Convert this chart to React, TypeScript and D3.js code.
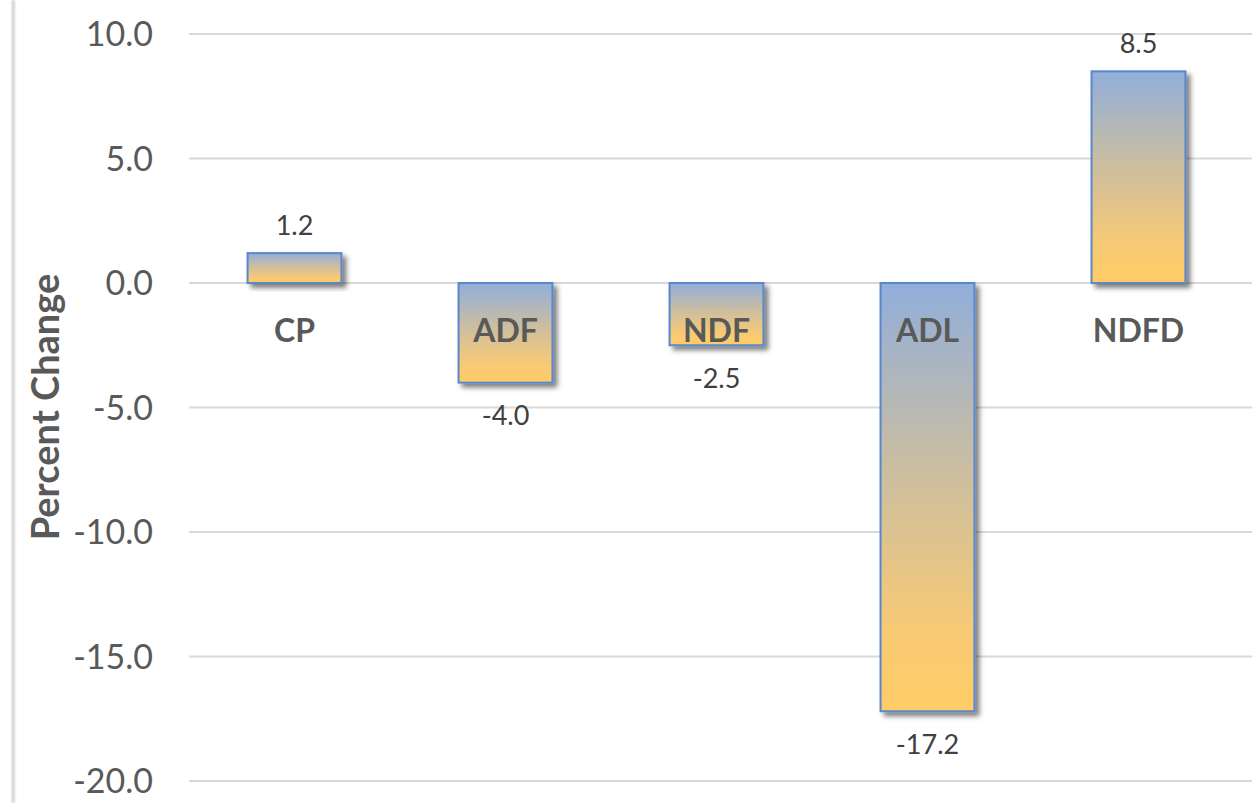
import React from "react";
import * as d3 from "d3";

const categories = ["CP", "ADF", "NDF", "ADL", "NDFD"];
const values = [1.2, -4.0, -2.5, -17.2, 8.5];
const yTicks = [10, 5, 0, -5, -10, -15, -20];
const yTitle = "Percent Change";

const W = 1260;
const H = 803;
const FONT = "Lato, 'Open Sans', sans-serif";
const fmt = (v: number) => d3.format(".1f")(v).replace("\u2212", "-");

export default function App() {
  const x = d3.scaleBand<string>().domain(categories).range([189, 1244]).paddingInner(0.555).paddingOuter(0.2775);
  const y = d3.scaleLinear().domain([-20, 10]).range([781, 34]);
  const y0 = y(0);

  return (
    <svg width={W} height={H} style={{ position: "absolute", left: 0, top: 0, background: "#fff" }} fontFamily={FONT}>
      <defs>
        <linearGradient id="barGrad" x1="0" y1="0" x2="0" y2="1">
          <stop offset="0" stopColor="#91AEDA" />
          <stop offset="0.45" stopColor="#CDBE9F" />
          <stop offset="0.82" stopColor="#F8CA74" />
          <stop offset="1" stopColor="#FFCC66" />
        </linearGradient>
        <filter id="shadow" x="-20%" y="-20%" width="150%" height="150%">
          <feDropShadow dx="4" dy="4" stdDeviation="2.5" floodColor="#000" floodOpacity="0.5" />
        </filter>
        <filter id="edge" x="-200%" y="0" width="500%" height="100%">
          <feGaussianBlur stdDeviation="1.2" />
        </filter>
      </defs>
      <rect x={12} y={0} width={2.5} height={H} fill="#c8c8c8" filter="url(#edge)" />
      {yTicks.map((t) => (
        <g key={t}>
          <line x1={189} x2={1252} y1={y(t)} y2={y(t)} stroke="#d9d9d9" strokeWidth={2} />
          <text x={153} y={y(t)} dy="0.36em" textAnchor="end" fontSize={34} fill="#595959">
            {fmt(t)}
          </text>
        </g>
      ))}
      {categories.map((c, i) => {
        const v = values[i];
        const bx = x(c)!;
        const bw = x.bandwidth();
        const top = Math.min(y(v), y0);
        const h = Math.abs(y(v) - y0);
        const cx = bx + bw / 2;
        return (
          <g key={c}>
            <rect x={bx} y={top} width={bw} height={h} fill="url(#barGrad)" stroke="#5A87C9" strokeWidth={2} filter="url(#shadow)" />
            <text x={cx} y={v >= 0 ? y(v) - 28 : y(v) + 33} dy="0.36em" textAnchor="middle" fontSize={27} fill="#404040">
              {fmt(v)}
            </text>
          </g>
        );
      })}
      {categories.map((c) => (
        <text key={c} x={x(c)! + x.bandwidth() / 2} y={330} dy="0.36em" textAnchor="middle" fontSize={32} fontWeight="bold" fill="#595959">
          {c}
        </text>
      ))}
      <text transform={`translate(45,407) rotate(-90)`} dy="0.36em" textAnchor="middle" fontSize={38} fontWeight="bold" fill="#595959">
        {yTitle}
      </text>
    </svg>
  );
}
